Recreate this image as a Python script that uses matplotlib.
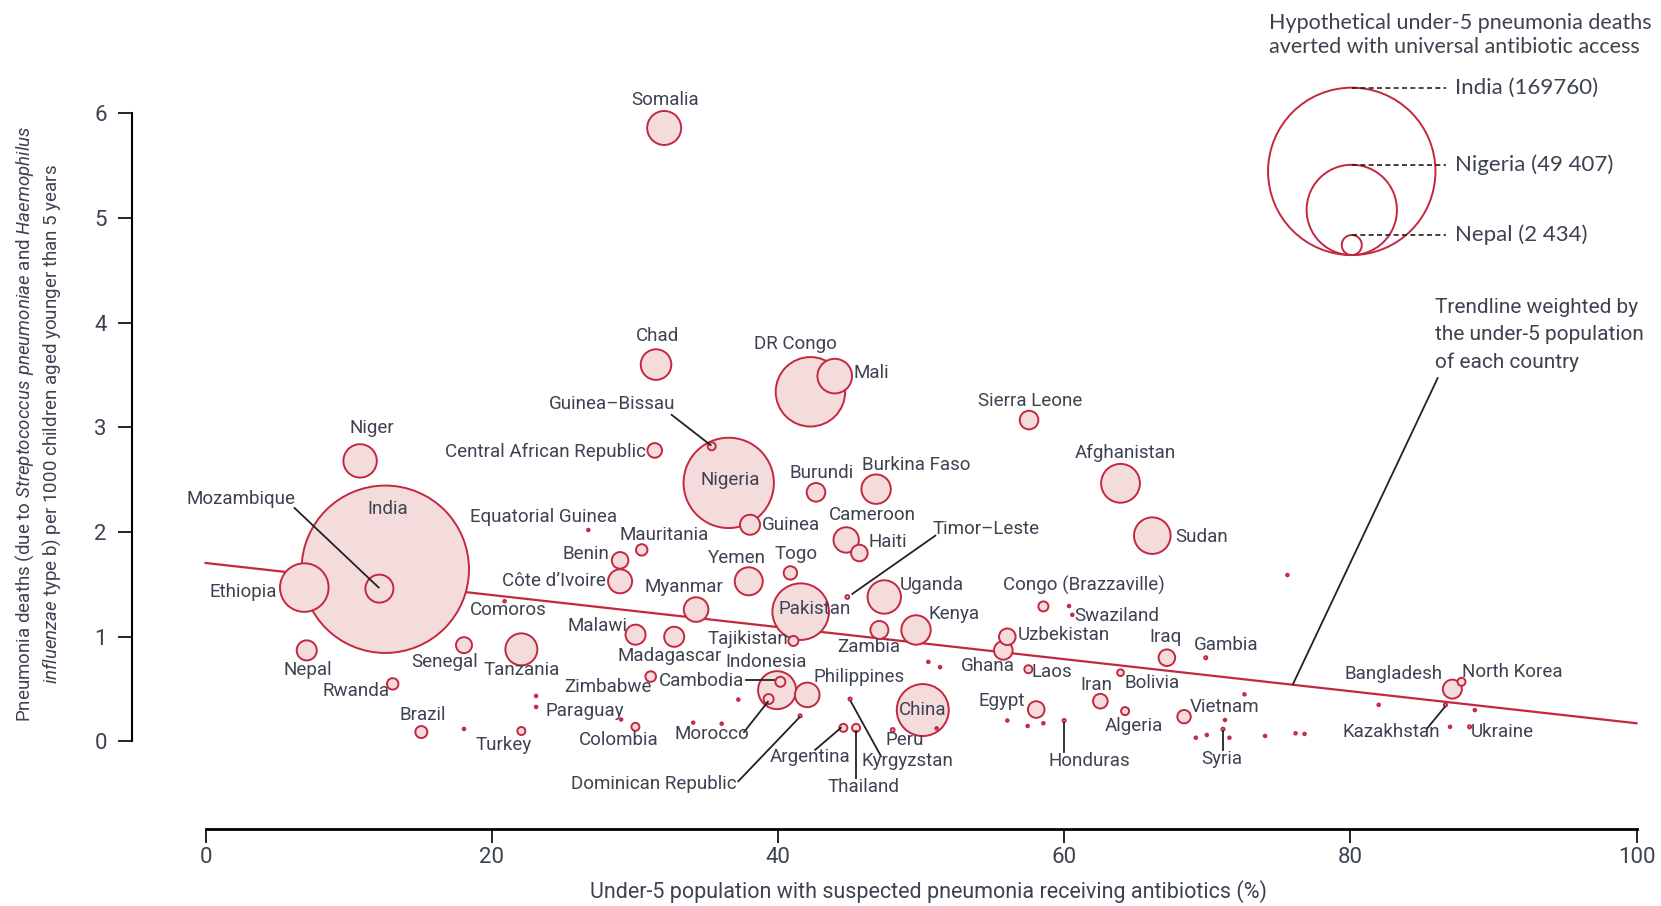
import numpy as np
import matplotlib
matplotlib.use("Agg")
import matplotlib.pyplot as plt
from matplotlib.transforms import offset_copy

# --- data ---
countries = ["Somalia", "Chad", "DR Congo", "Mali", "Guinea–Bissau", "Nigeria",
             "Central African Republic", "Niger", "India", "Mozambique", "Ethiopia",
             "Nepal", "Rwanda", "Senegal", "Tanzania", "Brazil", "Turkey", "Comoros",
             "Equatorial Guinea", "Mauritania", "Benin", "Côte d’Ivoire", "Malawi",
             "Madagascar", "Zimbabwe", "Colombia", "Paraguay", "Sierra Leone", "Burundi",
             "Burkina Faso", "Guinea", "Cameroon", "Haiti", "Yemen", "Togo", "Timor–Leste",
             "Pakistan", "Uganda", "Myanmar", "Kenya", "Zambia", "Tajikistan", "Uzbekistan",
             "Ghana", "Congo (Brazzaville)", "Swaziland", "Laos", "Iran", "Egypt", "China",
             "Indonesia", "Cambodia", "Morocco", "Philippines", "Dominican Republic",
             "Kyrgyzstan", "Argentina", "Thailand", "Peru", "Honduras", "Afghanistan",
             "Sudan", "Iraq", "Gambia", "Bolivia", "Algeria", "Vietnam", "Syria",
             "Bangladesh", "North Korea", "Kazakhstan", "Ukraine"]
coverage = [32.05, 31.48, 42.27, 43.97, 35.37, 36.56, 31.39, 10.80, 12.56, 12.15, 6.90,
            7.07, 13.08, 18.06, 22.07, 15.08, 22.07, 20.9, 26.75, 30.48, 28.97, 28.97, 30.05,
            32.75, 31.11, 30.04, 29.04, 57.55, 42.66, 46.86, 38.05, 44.77, 45.69, 37.96, 40.87,
            44.85, 41.59, 47.43, 34.28, 49.65, 47.09, 41.08, 56.03, 55.75, 58.55, 60.57, 57.5,
            62.53, 58.05, 50.12, 39.94, 40.17, 39.35, 42.05, 41.55, 45.04, 44.57, 45.46, 48.02,
            60.0, 63.94, 66.16, 67.18, 69.9, 63.94, 64.26, 68.38, 71.1, 87.13, 87.77, 86.65, 88.33]
deaths_rate = [5.86, 3.60, 3.34, 3.49, 2.82, 2.47, 2.78, 2.68, 1.645, 1.46, 1.47,
               0.87, 0.55, 0.92, 0.88, 0.09, 0.10, 1.34, 2.02, 1.83, 1.73, 1.53, 1.02,
               1.00, 0.62, 0.14, 0.21, 3.07, 2.38, 2.41, 2.07, 1.925, 1.80, 1.53, 1.61,
               1.38, 1.24, 1.38, 1.26, 1.065, 1.065, 0.96, 1.00, 0.87, 1.29, 1.21, 0.69,
               0.385, 0.305, 0.30, 0.49, 0.57, 0.405, 0.445, 0.245, 0.405, 0.13, 0.13, 0.11,
               0.20, 2.466, 1.966, 0.80, 0.80, 0.657, 0.29, 0.237, 0.117, 0.50, 0.57, 0.35, 0.14]
averted = [7000, 5670, 29200, 7250, 390, 49407, 1290, 6760, 169760, 4750, 14300,
           2434, 790, 1550, 6200, 870, 390, 40, 40, 790, 1670, 3490, 2434,
           2434, 680, 390, 40, 2100, 2100, 5240, 2434, 3900, 1670, 4750, 1090,
           90, 19400, 6760, 3660, 5240, 1960, 610, 1670, 2100, 610, 40, 390,
           1300, 1670, 16380, 8750, 610, 610, 3660, 60, 60, 390, 390, 90,
           60, 9120, 8100, 1670, 60, 270, 390, 1090, 60, 2190, 390, 60, 60]

# unlabelled small countries
other_x = [18.06, 23.1, 23.1, 34.08, 36.07, 37.23, 50.51, 51.33, 51.09, 56.03, 57.45,
           58.55, 60.34, 75.6, 72.6, 69.2, 69.97, 71.24, 71.55, 74.04, 76.17, 76.8,
           81.98, 88.7, 86.97]
other_y = [0.12, 0.435, 0.33, 0.18, 0.17, 0.40, 0.76, 0.71, 0.126, 0.20, 0.148,
           0.174, 1.294, 1.59, 0.45, 0.036, 0.062, 0.205, 0.036, 0.053, 0.078, 0.072,
           0.35, 0.30, 0.14]
other_averted = [40] * len(other_x)

# label positions (text centres)
lab_x = [32.12, 31.6, 41.23, 46.5, 28.4, 36.64, 23.76, 11.6, 12.73, 2.5, 2.66,
         7.18, 10.51, 16.73, 22.06, 15.17, 20.8, 21.17, 23.6, 32.05, 26.57, 24.35, 27.39,
         32.42, 28.13, 28.87, 26.5, 57.66, 43.08, 49.67, 40.9, 46.6, 47.67, 37.16, 41.3,
         54.55, 42.56, 50.78, 33.46, 52.33, 46.34, 37.9, 59.96, 54.7, 61.36, 63.66, 59.14,
         62.25, 55.66, 50.12, 39.16, 34.64, 35.38, 45.67, 31.31, 49.07, 42.26, 45.97, 48.85,
         61.73, 64.3, 69.6, 67.06, 71.35, 66.17, 64.84, 71.2, 70.99, 83.05, 91.34, 82.83, 90.6]
lab_y = [6.13, 3.87, 3.80, 3.52, 3.22, 2.50, 2.77, 2.99, 2.22, 2.32, 1.43,
         0.68, 0.48, 0.76, 0.68, 0.25, -0.03, 1.26, 2.14, 1.97, 1.79, 1.53, 1.10,
         0.82, 0.52, 0.01, 0.29, 3.25, 2.56, 2.64, 2.07, 2.16, 1.91, 1.75, 1.79,
         2.03, 1.27, 1.49, 1.48, 1.22, 0.90, 0.98, 1.02, 0.72, 1.49, 1.20, 0.66,
         0.54, 0.39, 0.30, 0.76, 0.58, 0.07, 0.62, -0.41, -0.19, -0.15, -0.435, 0.01,
         -0.19, 2.76, 1.95, 1.00, 0.92, 0.56, 0.15, 0.33, -0.17, 0.64, 0.66, 0.09, 0.09]

# leader lines: (x0, y0, x1, y1)
leaders = [(6.22, 2.23, 12.1, 1.47),      # Mozambique
           (32.57, 3.12, 35.3, 2.83),     # Guinea-Bissau
           (51.0, 1.966, 45.2, 1.41),     # Timor-Leste
           (37.8, 0.59, 39.7, 0.59),      # Cambodia
           (39.3, 0.38, 37.63, 0.09),     # Morocco
           (41.5, 0.23, 37.23, -0.38),    # Dominican Republic
           (44.4, 0.13, 42.6, -0.08),     # Argentina
           (45.46, 0.10, 45.46, -0.35),   # Thailand
           (45.1, 0.38, 47.2, -0.14),     # Kyrgyzstan
           (60.0, 0.18, 60.0, -0.10),     # Honduras
           (71.1, 0.10, 71.1, -0.08),     # Syria
           (86.6, 0.33, 85.34, 0.12),     # Kazakhstan
           (86.1, 3.47, 76.0, 0.55)]      # trendline note

trend_x = [0, 100]
trend_y = [1.705, 0.174]

legend_names = ["India (169760)", "Nigeria (49 407)", "Nepal (2 434)"]
legend_vals = [169760, 49407, 2434]

xticks = [0, 20, 40, 60, 80, 100]
yticks = [0, 1, 2, 3, 4, 5, 6]

# --- style ---
EDGE = "#c3283f"
FILL = "#f5dcdc"
TXT = "#3d4250"
plt.rcParams["font.family"] = ["Roboto", "DejaVu Sans"]
plt.rcParams["mathtext.fontset"] = "custom"
plt.rcParams["mathtext.rm"] = "Roboto"
plt.rcParams["mathtext.it"] = "Roboto:italic"

DPI = 100
R_MAX = 83.7  # pixel radius of the largest bubble


def bubble_s(v):
    r_pt = R_MAX * np.sqrt(np.asarray(v, float) / 169760) * 72 / DPI
    return (2 * r_pt) ** 2


fig = plt.figure(figsize=(16.61, 9.06), dpi=DPI)
ax = fig.add_axes([0.07947, 0.08499, 0.9101, 0.85927])
ax.set_xlim(-5.14, 100.5)
ax.set_ylim(-0.836, 6.6)

ax.plot(trend_x, trend_y, color=EDGE, lw=1.6, zorder=1)

allx = np.array(coverage + other_x)
ally = np.array(deaths_rate + other_y)
allv = np.array(averted + other_averted)
order = np.argsort(-allv)
ax.scatter(allx[order], ally[order], s=bubble_s(allv[order]), facecolor=FILL,
           edgecolor=EDGE, linewidth=1.4, zorder=2)

for (x0, y0, x1, y1) in leaders:
    ax.plot([x0, x1], [y0, y1], color="#222222", lw=1.3, zorder=3)

for name, lx, ly in zip(countries, lab_x, lab_y):
    ax.text(lx, ly, name, ha="center", va="center", fontsize=13.5, color=TXT, zorder=4)

# bubble legend
ax.text(74.3, 6.96, "Hypothetical under-5 pneumonia deaths\naverted with universal antibiotic access",
        ha="left", va="top", fontsize=15.5, color=TXT, linespacing=1.25, family=["Lato", "DejaVu Sans"])
for name, v in zip(legend_names, legend_vals):
    r_pt = R_MAX * np.sqrt(v / 169760) * 72 / DPI
    tr = offset_copy(ax.transData, fig=fig, x=0, y=r_pt, units="points")
    ax.scatter([80.1], [4.646], s=bubble_s(v), facecolor="none", edgecolor=EDGE,
               linewidth=1.4, transform=tr, zorder=2, clip_on=False)
    tr2 = offset_copy(ax.transData, fig=fig, x=0, y=2 * r_pt, units="points")
    ax.plot([80.1, 86.7], [4.646, 4.646], ls=(0, (3, 2)), color="#222222", lw=1.2,
            transform=tr2, clip_on=False)
    ax.text(87.3, 4.646, name, ha="left", va="center", fontsize=16, color=TXT,
            transform=tr2, family=["Lato", "DejaVu Sans"])

ax.text(85.9, 4.24, "Trendline weighted by\nthe under-5 population\nof each country",
        ha="left", va="top", fontsize=15, color=TXT, linespacing=1.55)

# axes
for sp in ["top", "right"]:
    ax.spines[sp].set_visible(False)
ax.spines["left"].set_bounds(0, 6)
ax.spines["bottom"].set_bounds(0, 100)
ax.spines["left"].set_linewidth(1.5)
ax.spines["bottom"].set_linewidth(2.0)
ax.set_xticks(xticks)
ax.set_yticks(yticks)
ax.tick_params(axis="y", length=10, width=1.2, pad=8, labelsize=16, labelcolor=TXT)
ax.tick_params(axis="x", length=10, width=1.2, pad=3, labelsize=16, labelcolor=TXT)

fig.text(928 / 1661, 0.0155, "Under-5 population with suspected pneumonia receiving antibiotics (%)",
         ha="center", va="center", fontsize=15.5, color=TXT)
fig.text(38.5 / 1661, 0.532,
         "Pneumonia deaths (due to $\\it{Streptococcus\\ pneumoniae}$ and $\\it{Haemophilus}$\n"
         "$\\it{influenzae}$ type b) per 1000 children aged younger than 5 years",
         ha="center", va="center", rotation=90, fontsize=13.5, color=TXT,
         multialignment="center", linespacing=1.3)

fig.savefig("out.png", dpi=DPI)
